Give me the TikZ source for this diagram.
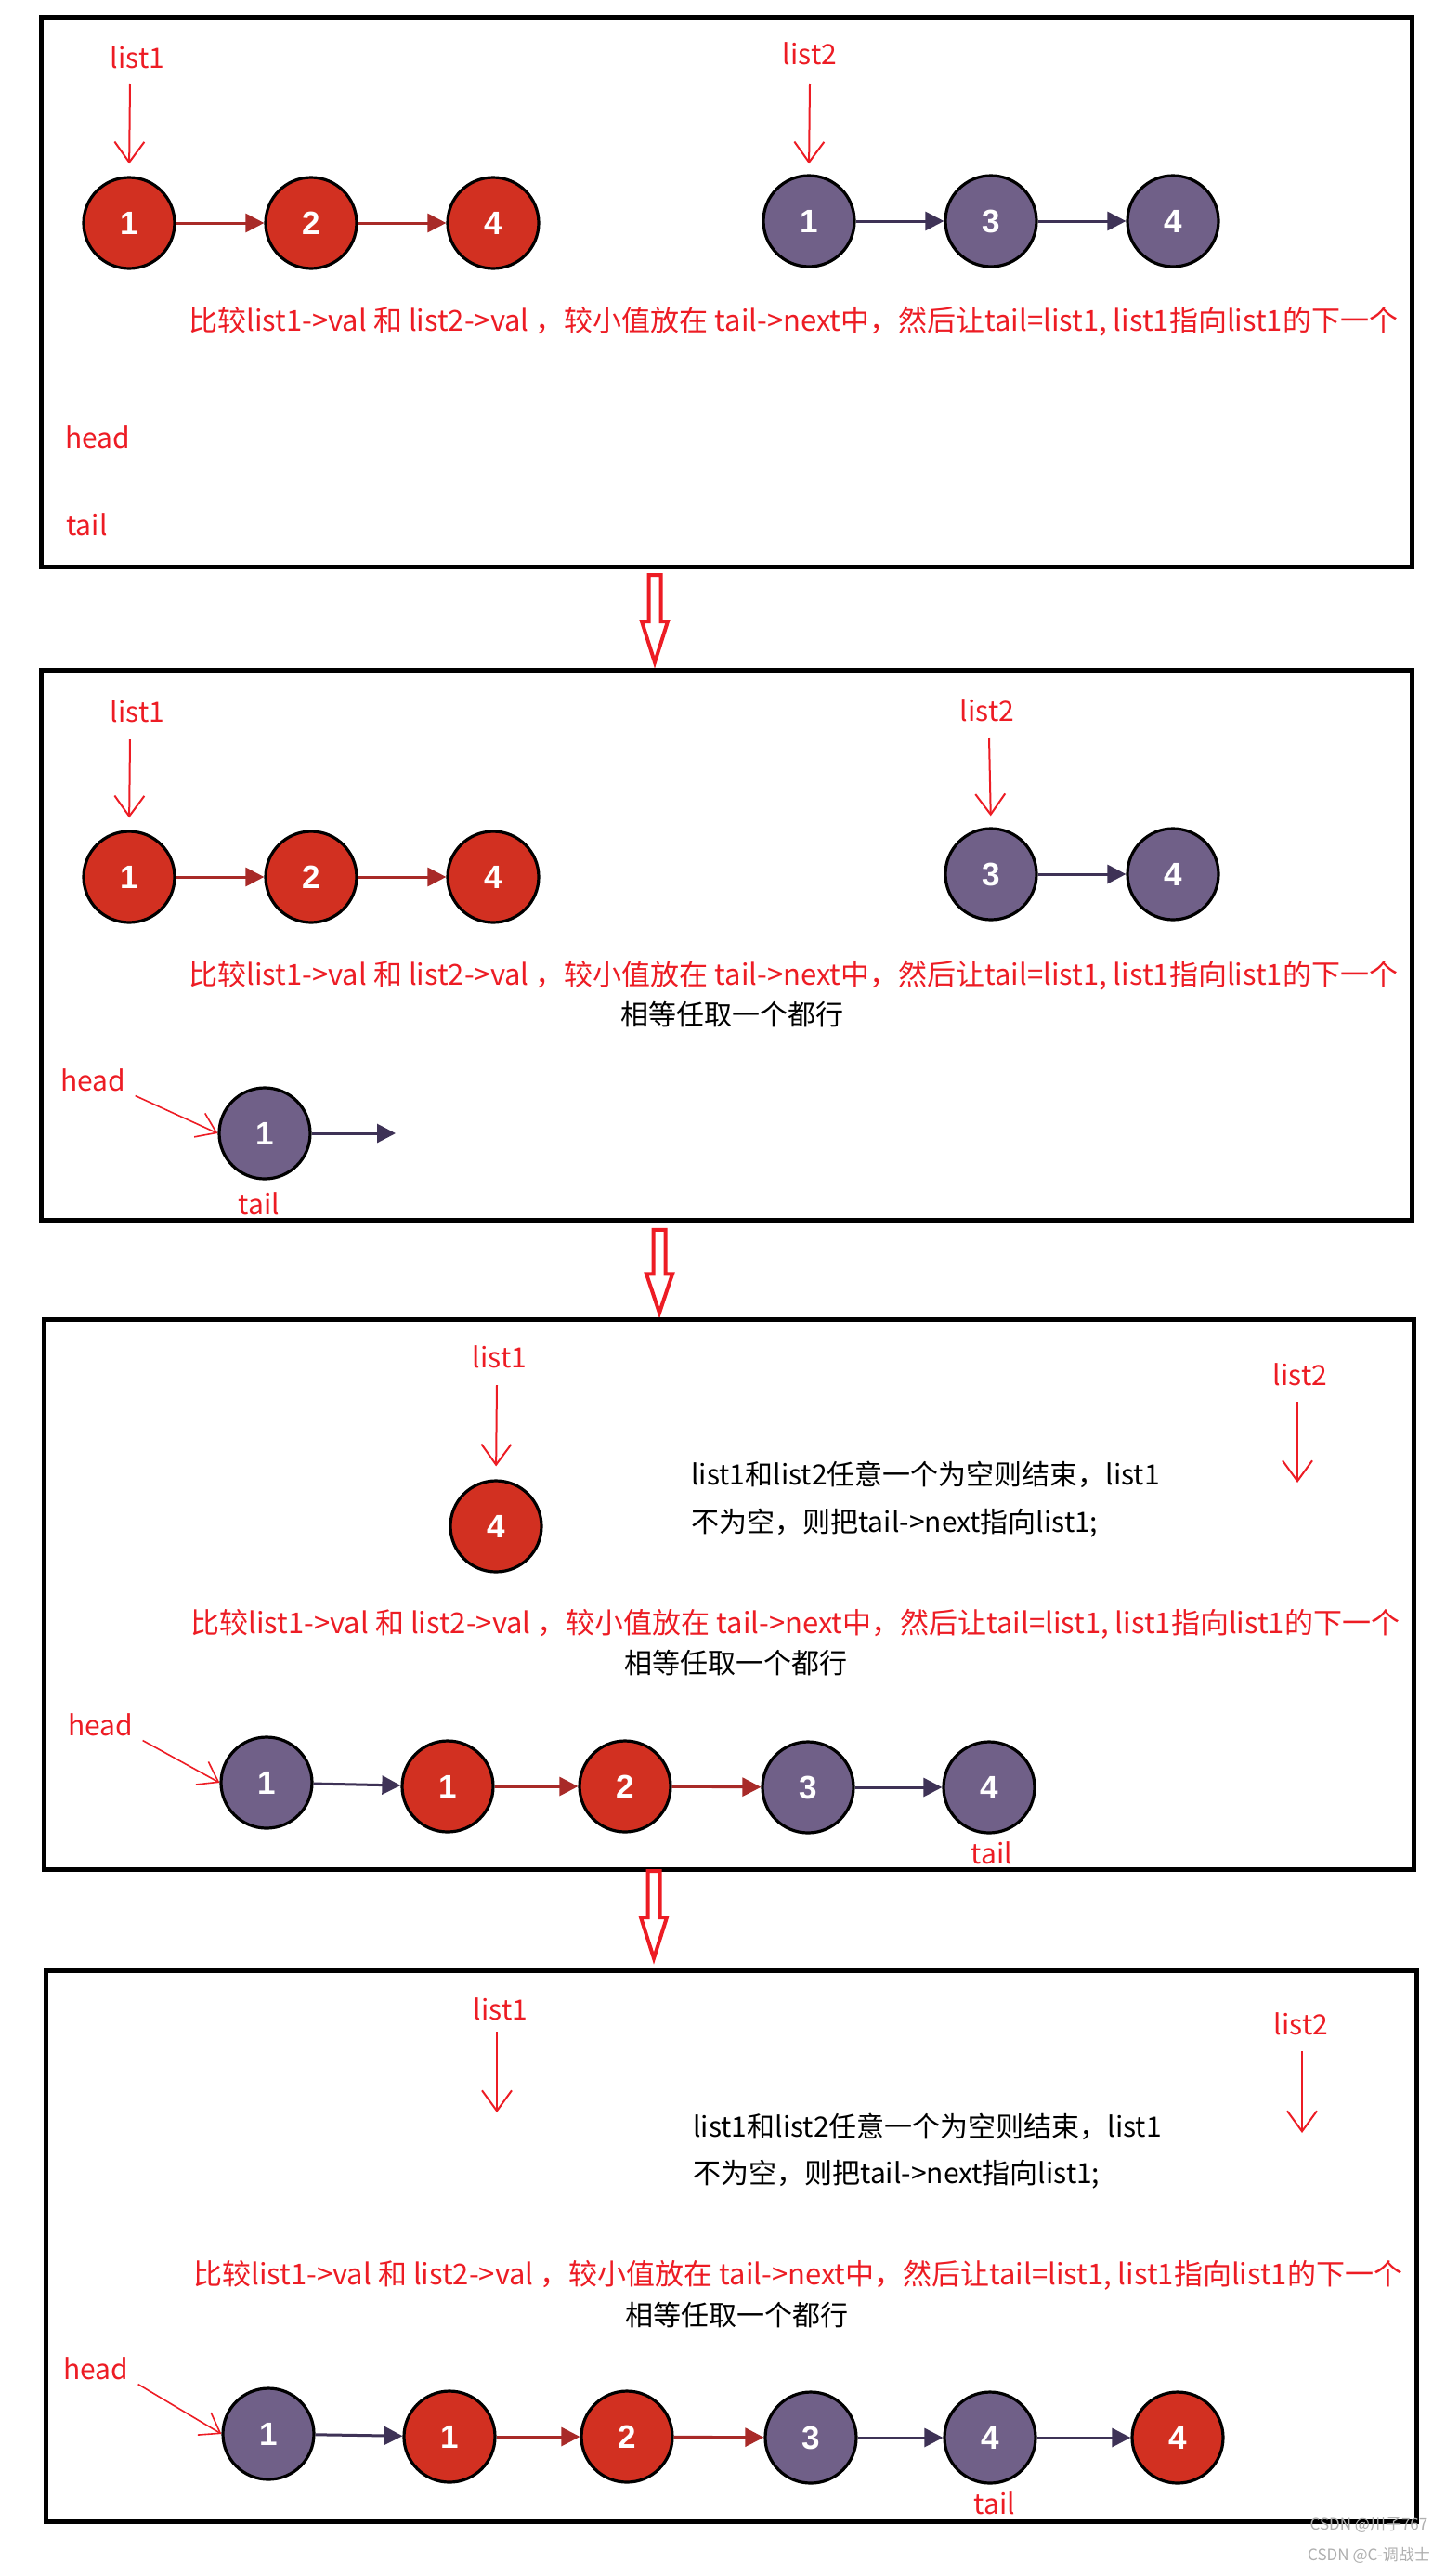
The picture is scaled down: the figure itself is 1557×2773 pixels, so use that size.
\documentclass[tikz,border=0pt]{standalone}
\usepackage{fontspec}
\setmainfont{Noto Sans CJK SC}
\newfontfamily\numfont{Liberation Sans}
\usetikzlibrary{arrows.meta}
\definecolor{nodered}{RGB}{210,48,33}
\definecolor{nodepurple}{RGB}{112,96,136}
\definecolor{linkred}{RGB}{168,42,40}
\definecolor{linkpurple}{RGB}{62,50,86}
\definecolor{annred}{RGB}{237,28,36}
\definecolor{wmgray}{RGB}{175,175,175}
\tikzset{
  bigarrow/.pic={\draw[draw=annred,line width=2pt,fill=white,line join=miter]
    (-6.5,2) -- (6.5,2) -- (6.5,52) -- (14,52) -- (0,96) -- (-14,52) -- (-6.5,52) -- cycle;}
}
\begin{document}
\begin{tikzpicture}[x=0.5pt,y=-0.5pt,
  panel/.style={draw=black,line width=2.5pt},
  rnode/.style={circle,draw=black,line width=1.6pt,fill=nodered,minimum size=49pt,inner sep=0pt,
    text=white,font=\numfont\bfseries\fontsize{17.5}{17.5}\selectfont},
  pnode/.style={rnode,fill=nodepurple},
  rlink/.style={draw=linkred,line width=1.5pt,-{Triangle[length=10pt,width=10pt]}},
  plink/.style={rlink,draw=linkpurple},
  lbl/.style={text=annred,font=\fontsize{15}{18}\selectfont,inner sep=0pt},
  rnote/.style={lbl,anchor=west},
  longnote/.style={rnote,font=\fontsize{15.5}{18}\selectfont},
  bnote/.style={rnote,text=black},
  ptr/.style={draw=annred,line width=1pt,-{Straight Barb[length=11pt,width=16pt]}},
  hptr/.style={draw=annred,line width=0.8pt,-{Straight Barb[length=10pt,width=14pt]}},
  wm/.style={text=wmgray,inner sep=0pt,font=\fontsize{8.5}{9}\selectfont},
]
\useasboundingbox[fill=white] (0,0) rectangle (1557,2773);

% ---------------- panel 1 ----------------
\draw[panel] (44,18) rectangle (1520,610);
\node[lbl] (L11) at (148,62) {list1};
\node[lbl] (L12) at (872,58) {list2};
\node[rnode] (a1) at (139,240) {1};
\node[rnode] (a2) at (335,240) {2};
\node[rnode] (a3) at (531,240) {4};
\node[pnode] (b1) at (871,238) {1};
\node[pnode] (b2) at (1067,238) {3};
\node[pnode] (b3) at (1263,238) {4};
\draw[rlink] (a1) -- (a2);
\draw[rlink] (a2) -- (a3);
\draw[plink] (b1) -- (b2);
\draw[plink] (b2) -- (b3);
\coordinate (s11) at (140,90);
\coordinate (s12) at (872,90);
\draw[ptr,shorten >=6.5pt] (s11) -- (a1.north);
\draw[ptr,shorten >=5.5pt] (s12) -- (b1.north);
\node[longnote] (t1) at (203,346) {比较list1->val 和 list2->val ，较小值放在 tail->next中，然后让tail=list1, list1指向list1的下一个};
\node[rnote] (h1) at (70,471) {head};
\node[rnote] (tl1) at (71,565) {tail};

\pic at (705,617) {bigarrow};

% ---------------- panel 2 ----------------
\draw[panel] (44,721) rectangle (1520,1313);
\node[lbl] (L21) at (148,766) {list1};
\node[lbl] (L22) at (1063,765) {list2};
\node[rnode] (c1) at (139,944) {1};
\node[rnode] (c2) at (335,944) {2};
\node[rnode] (c3) at (531,944) {4};
\node[pnode] (d2) at (1067,941) {3};
\node[pnode] (d3) at (1263,941) {4};
\draw[rlink] (c1) -- (c2);
\draw[rlink] (c2) -- (c3);
\draw[plink] (d2) -- (d3);
\coordinate (s21) at (140,796);
\coordinate (s22) at (1065,794);
\draw[ptr,shorten >=6.5pt] (s21) -- (c1.north);
\draw[ptr,shorten >=6pt] (s22) -- (d2.north);
\node[longnote] (t2) at (203,1050) {比较list1->val 和 list2->val ，较小值放在 tail->next中，然后让tail=list1, list1指向list1的下一个};
\node[bnote] (q2) at (668,1092) {相等任取一个都行};
\node[rnote] (h2) at (65,1163) {head};
\node[pnode] (e1) at (285,1220) {1};
\coordinate (e2) at (426,1220);
\draw[plink] (e1) -- (e2);
\draw[hptr] ([xshift=5pt,yshift=-2pt]h2.south east) -- (e1.west);
\node[lbl] (tl2) at (279,1296) {tail};

\pic[yscale=0.95] at (710,1322) {bigarrow};

% ---------------- panel 3 ----------------
\draw[panel] (47,1420) rectangle (1522,2012);
\node[lbl] (L31) at (538,1461) {list1};
\node[lbl] (L32) at (1400,1480) {list2};
\node[rnode] (f1) at (534,1643) {4};
\coordinate (s31) at (535,1491);
\coordinate (s32) at (1397,1509);
\coordinate (x32) at (1397,1596);
\draw[ptr,shorten >=7pt] (s31) -- (f1.north);
\draw[ptr] (s32) -- (x32);
\node[bnote] (m31) at (744,1587) {list1和list2任意一个为空则结束，list1};
\node[bnote] (m32) at (744,1640) {不为空，则把tail->next指向list1;};
\node[longnote] (t3) at (205,1748) {比较list1->val 和 list2->val ，较小值放在 tail->next中，然后让tail=list1, list1指向list1的下一个};
\node[bnote] (q3) at (672,1790) {相等任取一个都行};
\node[rnote] (h3) at (73,1857) {head};
\node[pnode] (g1) at (287,1919) {1};
\node[rnode] (g2) at (482,1923) {1};
\node[rnode] (g3) at (673,1923) {2};
\node[pnode] (g4) at (870,1924) {3};
\node[pnode] (g5) at (1065,1924) {4};
\draw[plink] (g1) -- (g2);
\draw[rlink] (g2) -- (g3);
\draw[rlink] (g3) -- (g4);
\draw[plink] (g4) -- (g5);
\draw[hptr] ([xshift=5pt,yshift=-2pt]h3.south east) -- (g1.west);
\node[lbl] (tl3) at (1068,1995) {tail};

\pic at (704,2012) {bigarrow};

% ---------------- panel 4 ----------------
\draw[panel] (49,2121) rectangle (1525,2714);
\node[lbl] (L41) at (539,2163) {list1};
\node[lbl] (L42) at (1401,2179) {list2};
\coordinate (s41) at (535,2187);
\coordinate (x41) at (535,2274);
\coordinate (s42) at (1402,2208);
\coordinate (x42) at (1402,2296);
\draw[ptr] (s41) -- (x41);
\draw[ptr] (s42) -- (x42);
\node[bnote] (m41) at (746,2289) {list1和list2任意一个为空则结束，list1};
\node[bnote] (m42) at (746,2341) {不为空，则把tail->next指向list1;};
\node[longnote] (t4) at (208,2449) {比较list1->val 和 list2->val ，较小值放在 tail->next中，然后让tail=list1, list1指向list1的下一个};
\node[bnote] (q4) at (673,2492) {相等任取一个都行};
\node[rnote] (h4) at (68,2550) {head};
\node[pnode] (k1) at (289,2620) {1};
\node[rnode] (k2) at (484,2623) {1};
\node[rnode] (k3) at (675,2623) {2};
\node[pnode] (k4) at (873,2624) {3};
\node[pnode] (k5) at (1066,2624) {4};
\node[rnode] (k6) at (1268,2624) {4};
\draw[plink] (k1) -- (k2);
\draw[rlink] (k2) -- (k3);
\draw[rlink] (k3) -- (k4);
\draw[plink] (k4) -- (k5);
\draw[plink] (k5) -- (k6);
\draw[hptr] ([xshift=5pt,yshift=-2pt]h4.south east) -- (k1.west);
\node[lbl] (tl4) at (1071,2695) {tail};

% watermarks
\node[wm] (w1) at (1474,2718) {CSDN @川子767};
\node[wm] (w2) at (1474,2751) {CSDN @C-调战士};
\end{tikzpicture}
\end{document}
